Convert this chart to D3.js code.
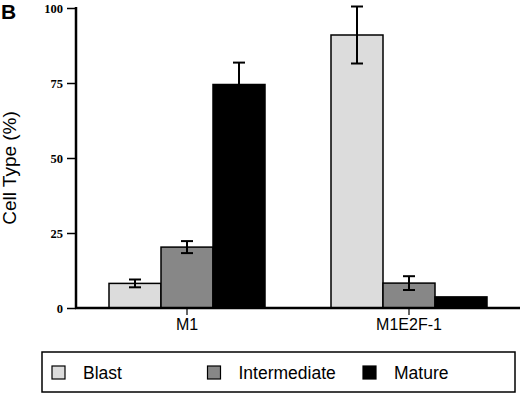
<!DOCTYPE html>
<html>
<head>
<meta charset="utf-8">
<script src="https://cdn.jsdelivr.net/npm/d3@7"></script>
<style>
    body { margin: 0; background: #fff; }
    svg { display: block; }
</style>
</head>
<body>
<div id="chart"></div>
<script>

// chart data
const groups = ["M1", "M1E2F-1"];
const cellTypes = ["Blast", "Intermediate", "Mature"];
const blastValues = [8.2, 91];
const intermediateValues = [20.3, 8.3];
const matureValues = [74.5, 3.7];
const blastErrors = [1.3, 9.5];
const intermediateErrors = [2, 2.3];
const matureErrors = [7.3, 0];
const yTicks = [0, 25, 50, 75, 100];
const typeColors = ["#dcdcdc", "#878787", "#000000"];

class BarChart {

    constructor(parentElement) {
        this.parentElement = parentElement;
        this.initVis();
    }

    initVis() {
        let vis = this;

        vis.width = 520;
        vis.height = 394;
        vis.margin = {top: 8, left: 76, bottom: 308, right: 520};

        vis.svg = d3.select("#" + vis.parentElement).append("svg")
            .attr("width", vis.width)
            .attr("height", vis.height);

        // panel letter
        vis.svg.append("text")
            .attr("x", 1)
            .attr("y", 19)
            .attr("font-family", "Liberation Sans, Arial, sans-serif")
            .attr("font-weight", "bold")
            .attr("font-size", 21)
            .text("B");

        // scales
        vis.y = d3.scaleLinear().domain([0, 100]).range([vis.margin.bottom, vis.margin.top]);
        vis.x = d3.scaleBand().domain(groups).range([vis.margin.left, vis.margin.right]);
        vis.xSub = d3.scaleBand().domain(cellTypes).range([0, 156]);

        vis.wrangleData();
    }

    wrangleData() {
        let vis = this;

        let values = [blastValues, intermediateValues, matureValues];
        let errors = [blastErrors, intermediateErrors, matureErrors];

        vis.displayData = [];
        groups.forEach((g, gi) => {
            cellTypes.forEach((t, ti) => {
                vis.displayData.push({group: g, type: t, value: values[ti][gi], err: errors[ti][gi], color: typeColors[ti]});
            });
        });

        vis.updateVis();
    }

    updateVis() {
        let vis = this;
        let offset = (vis.x.bandwidth() - 156) / 2;

        // bars
        vis.svg.append("g").selectAll("rect")
            .data(vis.displayData)
            .enter().append("rect")
            .attr("x", d => vis.x(d.group) + offset + vis.xSub(d.type))
            .attr("y", d => vis.y(d.value))
            .attr("width", vis.xSub.bandwidth())
            .attr("height", d => vis.y(0) - vis.y(d.value))
            .attr("fill", d => d.color)
            .attr("stroke", "#000")
            .attr("stroke-width", 1.5);

        // error bars
        let errData = vis.displayData.filter(d => d.err > 0);
        let errG = vis.svg.append("g")
            .attr("stroke", "#000")
            .attr("stroke-width", 2);
        let cx = d => vis.x(d.group) + offset + vis.xSub(d.type) + vis.xSub.bandwidth() / 2;

        errG.selectAll(".stem")
            .data(errData)
            .enter().append("line")
            .attr("x1", cx).attr("x2", cx)
            .attr("y1", d => vis.y(d.value + d.err))
            .attr("y2", d => vis.y(d.value - d.err));

        errG.selectAll(".capTop")
            .data(errData)
            .enter().append("line")
            .attr("x1", d => cx(d) - 6).attr("x2", d => cx(d) + 6)
            .attr("y1", d => vis.y(d.value + d.err))
            .attr("y2", d => vis.y(d.value + d.err));

        errG.selectAll(".capBottom")
            .data(errData)
            .enter().append("line")
            .attr("x1", d => cx(d) - 6).attr("x2", d => cx(d) + 6)
            .attr("y1", d => vis.y(d.value - d.err))
            .attr("y2", d => vis.y(d.value - d.err));

        // y axis
        let yAxis = vis.svg.append("g")
            .attr("transform", "translate(" + vis.margin.left + ",0)")
            .call(d3.axisLeft(vis.y).tickValues(yTicks).tickSize(9).tickPadding(4));
        yAxis.select(".domain").remove();
        yAxis.selectAll(".tick line").attr("stroke-width", 1.5);
        yAxis.selectAll(".tick text")
            .attr("font-family", "Liberation Serif, Times New Roman, serif")
            .attr("font-weight", "bold")
            .attr("font-size", 12.5)
            .attr("fill", "#000");

        vis.svg.append("line")
            .attr("x1", vis.margin.left).attr("x2", vis.margin.left)
            .attr("y1", vis.y(100) - 1).attr("y2", vis.y(0) + 1)
            .attr("stroke", "#000")
            .attr("stroke-width", 2.5);

        // x axis
        let xAxis = vis.svg.append("g")
            .attr("transform", "translate(0," + vis.y(0) + ")")
            .call(d3.axisBottom(vis.x).tickSize(7).tickPadding(4));
        xAxis.select(".domain").remove();
        xAxis.selectAll(".tick line").attr("stroke-width", 1.2);
        xAxis.selectAll(".tick text")
            .attr("font-family", "Liberation Sans, Arial, sans-serif")
            .attr("font-size", 16)
            .attr("fill", "#000");

        vis.svg.append("line")
            .attr("x1", vis.margin.left - 1).attr("x2", vis.width)
            .attr("y1", vis.y(0)).attr("y2", vis.y(0))
            .attr("stroke", "#000")
            .attr("stroke-width", 2.5);

        // y label
        vis.svg.append("text")
            .attr("transform", "translate(16,168) rotate(-90)")
            .attr("text-anchor", "middle")
            .attr("font-family", "Liberation Sans, Arial, sans-serif")
            .attr("font-size", 19)
            .text("Cell Type (%)");

        // legend
        let legend = vis.svg.append("g");
        legend.append("rect")
            .attr("x", 42).attr("y", 352)
            .attr("width", 473).attr("height", 40)
            .attr("fill", "none")
            .attr("stroke", "#000")
            .attr("stroke-width", 1.5);

        let items = legend.selectAll(".item")
            .data(cellTypes)
            .enter().append("g")
            .attr("transform", (d, i) => "translate(" + (52 + i * 155.5) + ",366)");

        items.append("rect")
            .attr("width", 13).attr("height", 13)
            .attr("fill", (d, i) => typeColors[i])
            .attr("stroke", "#000")
            .attr("stroke-width", 1.2);

        items.append("text")
            .attr("x", 31)
            .attr("y", 12.5)
            .attr("font-family", "Liberation Sans, Arial, sans-serif")
            .attr("font-size", 17.5)
            .text(d => d);
    }
}

let myChart = new BarChart("chart");
</script>
</body>
</html>
